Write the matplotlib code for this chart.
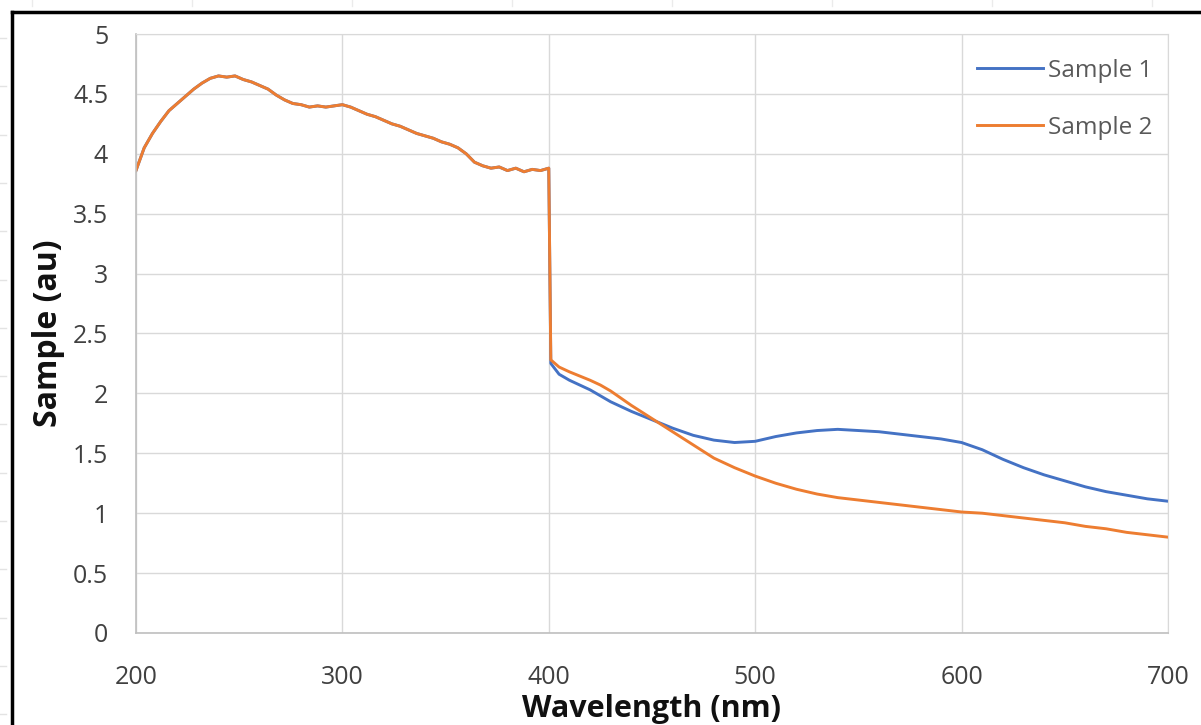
import matplotlib.pyplot as plt
import numpy as np
from matplotlib.lines import Line2D

plt.rcParams['font.family'] = ['Open Sans', 'DejaVu Sans']

# shared part of both spectra (200-400 nm, identical for both samples)
wl_common = [200, 204, 208, 212, 216, 220, 224, 228, 232, 236, 240, 244, 248,
             252, 256, 260, 264, 268, 272, 276, 280, 284, 288, 292, 296, 300,
             304, 308, 312, 316, 320, 324, 328, 332, 336, 340, 344, 348, 352,
             356, 360, 364, 368, 372, 376, 380, 384, 388, 392, 396, 400]
abs_common = [3.86, 4.05, 4.17, 4.27, 4.36, 4.42, 4.48, 4.54, 4.59, 4.63,
              4.65, 4.64, 4.65, 4.62, 4.60, 4.57, 4.54, 4.49, 4.45, 4.42,
              4.41, 4.39, 4.40, 4.39, 4.40, 4.41, 4.39, 4.36, 4.33, 4.31,
              4.28, 4.25, 4.23, 4.20, 4.17, 4.15, 4.13, 4.10, 4.08, 4.05,
              4.00, 3.93, 3.90, 3.88, 3.89, 3.86, 3.88, 3.85, 3.87, 3.86, 3.88]

# above 400 nm the two samples split
wl_s1 = [401, 405, 410, 420, 430, 440, 450, 460, 470, 480, 490, 500, 510,
         520, 530, 540, 550, 560, 570, 580, 590, 600, 610, 620, 630, 640,
         650, 660, 670, 680, 690, 700]
abs_s1 = [2.25, 2.16, 2.11, 2.03, 1.93, 1.85, 1.78, 1.71, 1.65, 1.61, 1.59,
          1.60, 1.64, 1.67, 1.69, 1.70, 1.69, 1.68, 1.66, 1.64, 1.62, 1.59,
          1.53, 1.45, 1.38, 1.32, 1.27, 1.22, 1.18, 1.15, 1.12, 1.10]

wl_s2 = [401, 405, 410, 420, 425, 430, 440, 450, 460, 470, 480, 490, 500,
         510, 520, 530, 540, 550, 560, 570, 580, 590, 600, 610, 620, 630,
         640, 650, 660, 670, 680, 690, 700]
abs_s2 = [2.28, 2.22, 2.18, 2.11, 2.07, 2.02, 1.90, 1.79, 1.68, 1.57, 1.46,
          1.38, 1.31, 1.25, 1.20, 1.16, 1.13, 1.11, 1.09, 1.07, 1.05, 1.03,
          1.01, 1.00, 0.98, 0.96, 0.94, 0.92, 0.89, 0.87, 0.84, 0.82, 0.80]

x_ticks = [200, 300, 400, 500, 600, 700]
y_ticks = [0, 0.5, 1, 1.5, 2, 2.5, 3, 3.5, 4, 4.5, 5]
y_ticklabels = ['0', '0.5', '1', '1.5', '2', '2.5', '3', '3.5', '4', '4.5', '5']

fig = plt.figure(figsize=(12.01, 7.25), dpi=100)
ax = fig.add_axes([0.1132, 0.1269, 0.8593, 0.8262])

ax.plot(wl_common + wl_s1, abs_common + abs_s1, color='#4472C4', lw=2.1,
        label='Sample 1')
ax.plot(wl_common + wl_s2, abs_common + abs_s2, color='#ED7D31', lw=2.1,
        label='Sample 2')

ax.set_xlim(200, 700)
ax.set_ylim(0, 5)
ax.set_xticks(x_ticks)
ax.set_yticks(y_ticks)
ax.set_yticklabels(y_ticklabels)
ax.tick_params(length=0, labelsize=18, colors='#404040')
ax.tick_params(axis='y', pad=20)
ax.tick_params(axis='x', pad=23)
ax.grid(True, color='#D9D9D9', lw=1.0)
ax.set_axisbelow(True)
for s in ['top', 'right']:
    ax.spines[s].set_color('#D9D9D9')
for s in ['left', 'bottom']:
    ax.spines[s].set_color('#BFBFBF')
    ax.spines[s].set_linewidth(1.2)

ax.set_xlabel('Wavelength (nm)', fontsize=22, fontweight='bold',
              color='#111111', labelpad=3)
ax.set_ylabel('Sample (au)', fontsize=23, fontweight='bold',
              color='#111111', labelpad=6)

ax.legend(loc='upper right', bbox_to_anchor=(1.006, 0.995), frameon=False,
          fontsize=17.5, handlelength=2.7, handletextpad=0.2,
          labelspacing=1.35, labelcolor='#595959')

# black frame on left and top, with the faint ruler ticks outside it
fig.add_artist(Line2D([12 / 1201, 12 / 1201], [0, 1 - 12 / 725],
                      transform=fig.transFigure, color='black', lw=2.5))
fig.add_artist(Line2D([12 / 1201, 1], [1 - 12 / 725, 1 - 12 / 725],
                      transform=fig.transFigure, color='black', lw=2.5))
for yp in np.arange(38, 725, 48.3):
    fig.add_artist(Line2D([0, 6 / 1201], [1 - yp / 725, 1 - yp / 725],
                          transform=fig.transFigure, color='#E3E3E3', lw=1))
for xp in np.arange(32, 1201, 160):
    fig.add_artist(Line2D([xp / 1201, xp / 1201], [1, 1 - 6 / 725],
                          transform=fig.transFigure, color='#EBEBEB', lw=1))

fig.savefig('out.png', dpi=100)
